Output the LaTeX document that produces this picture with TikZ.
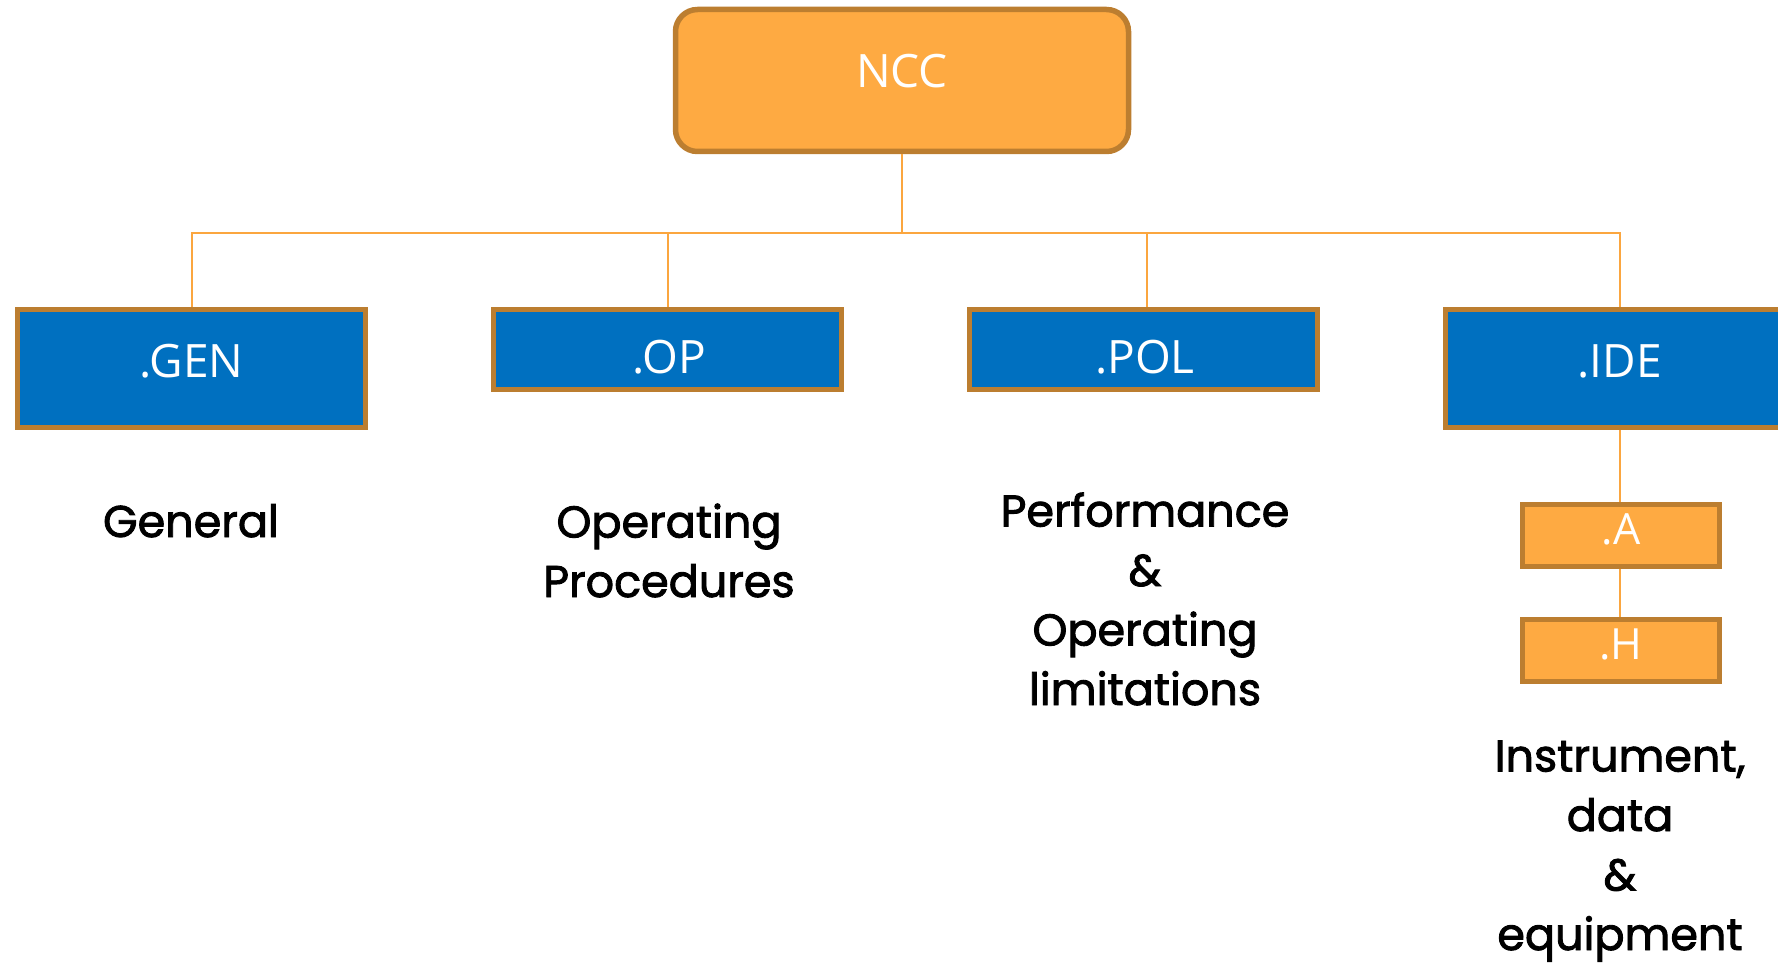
\documentclass[tikz,border=0pt]{standalone}
\usepackage{fontspec}
\setmainfont{Poppins}[FakeBold=2]
\newfontfamily\boxfont{Open Sans}
\definecolor{orfill}{HTML}{FEAA42}
\definecolor{orline}{HTML}{BC7E30}
\definecolor{bluefill}{HTML}{0070C0}
\definecolor{connc}{HTML}{FBA63F}
\begin{document}
\begin{tikzpicture}[x=1pt,y=-1pt,
  bluebox/.style={draw=orline, line width=5pt, fill=bluefill, inner sep=0pt},
  orbox/.style={draw=orline, line width=5pt, fill=orfill, inner sep=0pt},
  wlabel/.style={text=white, font=\boxfont\fontsize{46}{50}\selectfont, inner sep=0pt},
  slabel/.style={text=white, font=\boxfont\fontsize{43}{48}\selectfont, inner sep=0pt},
  desc/.style={text=black, font=\fontsize{44.5}{59.5}\selectfont, align=center, inner sep=0pt},
  conn/.style={draw=connc, line width=2pt}]
\useasboundingbox (0,0) rectangle (1778,963);
\clip (0,0) rectangle (1778,963);

\node[orbox, line width=5.5pt, rounded corners=22pt, minimum width=453pt, minimum height=142pt] (ncc) at (902,80.5) {};
\node[bluebox, minimum width=348pt, minimum height=118pt] (gen) at (191.5,368.5) {};
\node[bluebox, minimum width=348pt, minimum height=80pt] (op) at (667.5,349.5) {};
\node[bluebox, minimum width=348pt, minimum height=80pt] (pol) at (1143.5,349.5) {};
\node[bluebox, minimum width=348pt, minimum height=118pt] (ide) at (1619.5,368.5) {};
\node[orbox, minimum width=197pt, minimum height=62pt] (a) at (1621,535.5) {};
\node[orbox, minimum width=197pt, minimum height=62pt] (h) at (1621,650.5) {};

\coordinate (bus) at (902,233);
\draw[conn] (ncc.south) -- (bus);
\draw[conn] (bus) -| (gen.north);
\draw[conn] (bus) -| (op.north);
\draw[conn] (bus) -| ([xshift=3.5pt]pol.north);
\draw[conn] (bus) -| (ide.north);
\draw[conn] (ide.south) -- (ide.south |- a.north);
\draw[conn] (ide.south |- a.south) -- (ide.south |- h.north);

\node[wlabel, anchor=base] (ncct) at ([yshift=-7.5pt]ncc.center) {NCC};
\node[wlabel, anchor=base] (gent) at ([yshift=-8.5pt]gen.center) {.GEN};
\node[wlabel, anchor=base] (opt) at ([xshift=1.5pt,yshift=-23.5pt]op.center) {.OP};
\node[wlabel, anchor=base] (polt) at ([xshift=1.5pt,yshift=-23.5pt]pol.center) {.POL};
\node[wlabel, anchor=base] (idet) at ([yshift=-8.5pt]ide.center) {.IDE};
\node[slabel, anchor=base] (at) at ([yshift=-8.5pt]a.center) {.A};
\node[slabel, anchor=base] (ht) at ([yshift=-8.5pt]h.center) {.H};

% anchor=base of a multi-line node is the baseline of its last line
\node[desc, anchor=base] (gend) at (191,537) {General};
\node[desc, anchor=base] (opd) at (669,597) {Operating\\Procedures};
\node[desc, anchor=base] (pold) at (1145,705) {Performance\\\&\\Operating\\limitations};
\node[desc, anchor=base] (ided) at (1620,950) {Instrument,\\data\\\&\\equipment};
\end{tikzpicture}
\end{document}
